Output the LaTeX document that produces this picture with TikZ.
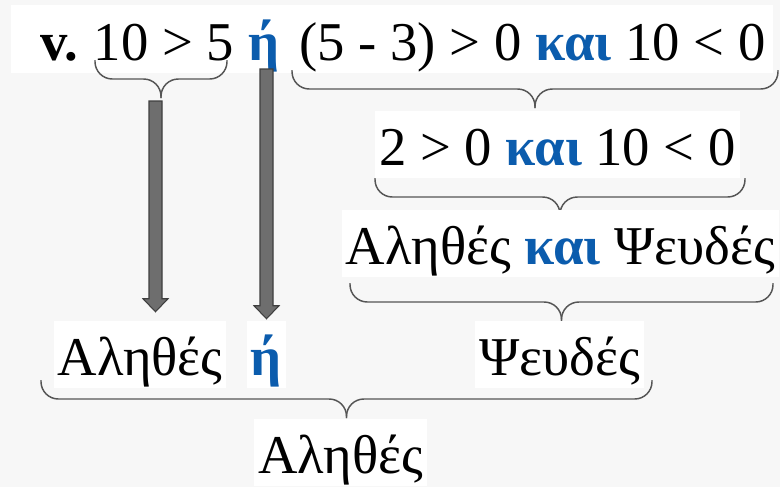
\documentclass[tikz,border=0pt]{standalone}
\usepackage{fontspec}
\setmainfont{Liberation Serif}
\usetikzlibrary{calc}

\definecolor{bggray}{HTML}{F7F7F7}
\definecolor{kwblue}{HTML}{0B5CAD}
\definecolor{braceline}{HTML}{555555}
\definecolor{arrowfill}{HTML}{6E6E6E}
\definecolor{arrowedge}{HTML}{3F3F3F}

\newcommand{\kw}[1]{\textcolor{kwblue}{\textbf{#1}}}
% brace: left x, right x, top y, name of the tip
\newcommand{\curly}[4]{%
  \draw[brace] (#1,#3) |- ({(#1+#2)/2},{#3+19}) -- ({(#1+#2)/2},{#3+38}) coordinate (#4);
  \draw[brace] (#2,#3) |- ({(#1+#2)/2},{#3+19}) -- ({(#1+#2)/2},{#3+38});
}
% block arrow from #1 down to the tip #2
\newcommand{\blockarrow}[2]{%
  \draw[barrow] ($(#1)+(-6.5,0)$) -- ($(#1)+(6.5,0)$) -- ($(#2)+(6.5,-13)$)
    -- ($(#2)+(12.5,-13)$) -- (#2) -- ($(#2)+(-12.5,-13)$) -- ($(#2)+(-6.5,-13)$) -- cycle;
}

\tikzset{
  word/.style={anchor=base, fill=white, inner xsep=3pt, inner ysep=0pt,
    text height=40.5pt, text depth=9.75pt, font=\fontsize{41}{50}\selectfont},
  brace/.style={draw=braceline, line width=1.1pt, rounded corners=13pt},
  barrow/.style={fill=arrowfill, draw=arrowedge, line width=0.8pt, line join=miter}
}

\begin{document}
\begin{tikzpicture}[x=0.75pt, y=-0.75pt]
  \useasboundingbox (0,0) rectangle (780,487);
  \fill[bggray] (0,0) rectangle (780,487);
  \fill[white] (11,5) rectangle (773,73);

  % braces first, the white boxes hide their tips
  \curly{95}{227}{60}{t1}
  \curly{292}{778}{70}{t2}
  \curly{375}{745}{178}{t3}
  \curly{350}{773}{283}{t4}
  \curly{41}{652}{380}{t5}

  % top row
  \node[word, fill=none, anchor=base west] (v) at (36,60) {\textbf{v.}};
  \node[word, fill=none] (lhs) at (164,60) {10 > 5};
  \node[word, fill=none] (or1) at (264,60) {\kw{ή}};
  \node[word, fill=none] (rhs) at (532.5,60) {(5 - 3) > 0 \kw{και} 10 < 0};

  \node[word] (step1) at (557.5,165) {2 > 0 \kw{και} 10 < 0};
  \node[word] (step2) at (560.5,264) {Αληθές \kw{και} Ψευδές};
  \node[word] (res1) at (140,375) {Αληθές};
  \node[word] (or2) at (266.5,375) {\kw{ή}};
  \node[word] (res2) at (559.5,375) {Ψευδές};
  \node[word] (final) at (340.5,473) {Αληθές};

  % arrows
  \coordinate (a1s) at (155.5,101);
  \coordinate (a2s) at (266.5,69);
  \coordinate (a1e) at ($(a1s |- res1.north)+(0,-9)$);
  \coordinate (a2e) at ($(a2s |- or2.north)+(0,-2)$);
  \blockarrow{a1s}{a1e}
  \blockarrow{a2s}{a2e}
\end{tikzpicture}
\end{document}
